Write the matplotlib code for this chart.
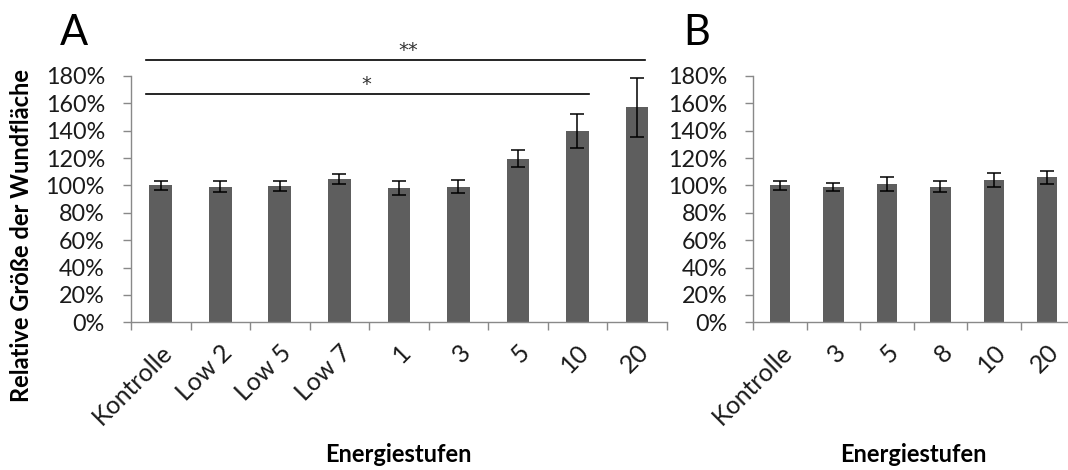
import matplotlib
matplotlib.use("Agg")
import matplotlib.pyplot as plt
import numpy as np

plt.rcParams['font.family'] = ['Lato', 'DejaVu Sans']

# Daten
cats_a = ["Kontrolle", "Low 2", "Low 5", "Low 7", "1", "3", "5", "10", "20"]
vals_a = [100, 99, 99.5, 105, 98, 99, 119.5, 140, 157]
err_a = [3.4, 4.0, 3.6, 3.7, 5.2, 4.7, 6.1, 12.5, 21.5]

cats_b = ["Kontrolle", "3", "5", "8", "10", "20"]
vals_b = [100, 99, 101, 99, 104, 106]
err_b = [3.4, 2.7, 4.9, 4.0, 5.1, 4.6]

y_ticks = [0, 20, 40, 60, 80, 100, 120, 140, 160, 180]

# Signifikanz: (von, bis, Linie y, Text x, Text y, Text)
brackets_a = [(-0.25, 8.14, 191.5, 4.15, 199.0, "**"),
              (-0.25, 7.19, 167.0, 3.45, 174.0, "*")]

W, H = 1068, 470
fig = plt.figure(figsize=(W / 100, H / 100), dpi=100)

bar_col = "#5e5e5e"
axis_col = "#898989"


def px_axes(x0, x1, y0, y1):
    return fig.add_axes([x0 / W, 1 - y1 / H, (x1 - x0) / W, (y1 - y0) / H])


def style(ax, cats, vals, errs):
    n = len(cats)
    x = np.arange(n)
    ax.bar(x, vals, width=0.38, color=bar_col, zorder=2)
    ax.errorbar(x, vals, yerr=errs, fmt='none', ecolor='black',
                elinewidth=1.1, capsize=4.7, capthick=1.1, zorder=3)
    ax.set_xlim(-0.5, n - 0.5)
    ax.set_ylim(0, 180)
    ax.set_yticks(y_ticks)
    ax.set_yticklabels([f"{t}%" for t in y_ticks])
    ax.set_xticks(np.arange(n + 1) - 0.5)
    ax.set_xticklabels([])
    ax.set_xticks(x, minor=True)
    ax.set_xticklabels(cats, minor=True, rotation=45, ha='right',
                       rotation_mode='anchor', fontsize=18, color='#1a1a1a')
    ax.tick_params(axis='x', which='major', length=8 * 0.72, width=1,
                   color=axis_col, direction='out')
    ax.tick_params(axis='x', which='minor', length=0, pad=13)
    ax.tick_params(axis='y', length=8 * 0.72, width=1, color=axis_col,
                   labelsize=16.8, labelcolor='#1a1a1a', pad=13)
    for s in ['top', 'right']:
        ax.spines[s].set_visible(False)
    for s in ['left', 'bottom']:
        ax.spines[s].set_color(axis_col)
        ax.spines[s].set_linewidth(1)


ax_a = px_axes(131, 666.7, 76, 322.3)
style(ax_a, cats_a, vals_a, err_a)
ax_b = px_axes(753.3, 1074, 76, 322.3)
style(ax_b, cats_b, vals_b, err_b)

for x0, x1, yl, tx, ty, txt in brackets_a:
    ax_a.plot([x0, x1], [yl, yl], color='black', lw=1.2, clip_on=False)
    ax_a.text(tx, ty, txt, ha='center', va='center', fontsize=14,
              family='DejaVu Sans', color='#333333', clip_on=False)

# Achsentitel
for xc in [(131 + 666.7) / 2, (753.3 + 1074) / 2]:
    fig.text(xc / W, 1 - 462 / H, "Energiestufen", ha='center', va='baseline',
             fontsize=17, fontweight='bold')
fig.text(22 / W, 1 - 235 / H, "Relative Größe der Wundfläche", rotation=90,
         ha='center', va='center', fontsize=17, fontweight='bold')
fig.text(60 / W, 1 - 45 / H, "A", fontsize=30, ha='left', va='baseline')
fig.text(683 / W, 1 - 45 / H, "B", fontsize=30, ha='left', va='baseline')

fig.savefig("out.png", dpi=100)
